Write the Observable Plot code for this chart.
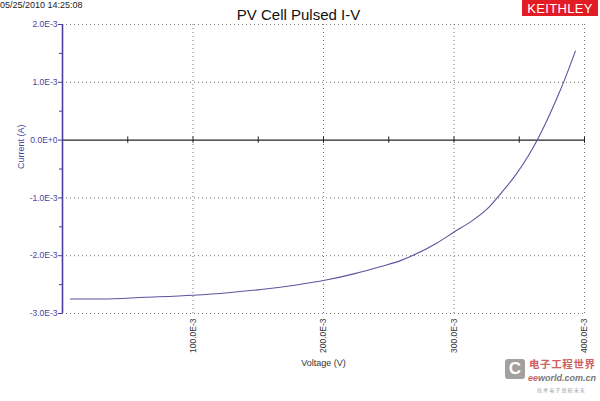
<!DOCTYPE html>
<html>
<head>
<meta charset="utf-8">
<script src="https://cdn.jsdelivr.net/npm/d3@7"></script>
<script src="https://cdn.jsdelivr.net/npm/@observablehq/plot@0.6"></script>
<style>
  html, body { margin: 0; padding: 0; background: #fff; }
  #wrap { position: relative; width: 600px; height: 401px; overflow: hidden; font-family: "Liberation Sans", Arial, sans-serif; }
  #stamp { position: absolute; left: 0; top: 0; font-size: 9px; color: #222; }
  #title { position: absolute; left: 0; width: 597px; top: 6px; text-align: center; font-size: 15px; color: #111; }
  #logo { position: absolute; left: 522px; top: 0; width: 76px; height: 16px; background: #e21c24; color: #fff; font-size: 13px; line-height: 17px; text-align: center; letter-spacing: 0.3px; }
  #wm { position: absolute; left: 505px; top: 357px; width: 95px; height: 42px; opacity: 0.8; white-space: nowrap; }
  #wm .c { position: absolute; left: 0; top: 2px; width: 20px; height: 20px; background: #8a8a8a; border-radius: 3px; color: #fff; font-size: 17px; font-weight: bold; line-height: 20px; text-align: center; }
  #wm .cn { position: absolute; left: 24px; top: 0; font-family: "Noto Sans CJK SC", sans-serif; font-size: 10.5px; color: #c23a3a; letter-spacing: 0.6px; line-height: 14px; font-weight: bold; }
  #wm .en { position: absolute; left: 23px; top: 16px; font-size: 9px; font-style: italic; color: #555; font-weight: bold; }
  #wm .en span { color: #c23a3a; }
  #wm .sm { position: absolute; left: 32px; top: 29px; font-family: "Noto Sans CJK SC", sans-serif; font-size: 5px; color: #888; }
</style>
</head>
<body>
<div id="wrap">
  <div id="chart"></div>
  <div id="stamp"></div>
  <div id="title"></div>
  <div id="logo"></div>
  <div id="wm"><div class="c">C</div><div class="cn">电子工程世界</div><div class="en"><span>ee</span>world.com.cn</div><div class="sm">技 术 电 子 感 知 未 来</div></div>
</div>
<script>
const stampText = "05/25/2010 14:25:08";
const titleText = "PV Cell Pulsed I-V";
const logoText = "KEITHLEY";
const xLabel = "Voltage (V)";
const yLabel = "Current (A)";

// Measured sweep (V, A)
const voltage = [0.006, 0.030, 0.063, 0.100, 0.127, 0.152, 0.178, 0.200, 0.224, 0.244, 0.259, 0.267, 0.287, 0.300, 0.313, 0.325, 0.336, 0.347, 0.357, 0.364, 0.371, 0.378, 0.385, 0.393];
const current = [-2.75e-3, -2.75e-3, -2.72e-3, -2.683e-3, -2.64e-3, -2.585e-3, -2.51e-3, -2.43e-3, -2.31e-3, -2.186e-3, -2.085e-3, -2.01e-3, -1.78e-3, -1.59e-3, -1.41e-3, -1.20e-3, -0.92e-3, -0.61e-3, -0.27e-3, 0.01e-3, 0.33e-3, 0.68e-3, 1.06e-3, 1.54e-3];

const yTicks = [-3e-3, -2e-3, -1e-3, 0, 1e-3, 2e-3];
const yTickLabels = ["-3.0E-3", "-2.0E-3", "-1.0E-3", "0.0E+0", "1.0E-3", "2.0E-3"];
const yMinorTicks = [-2.5e-3, -1.5e-3, -0.5e-3, 0.5e-3, 1.5e-3];
const yGrid = [-3e-3, -2e-3, -1e-3, 1e-3, 2e-3];
const xTicks = [0.1, 0.2, 0.3, 0.4];
const xTickLabels = ["100.0E-3", "200.0E-3", "300.0E-3", "400.0E-3"];
const xZeroTicks = [0.05, 0.1, 0.15, 0.2, 0.25, 0.3, 0.35, 0.4];

document.getElementById("stamp").textContent = stampText;
document.getElementById("title").textContent = titleText;
document.getElementById("logo").textContent = logoText;

const data = voltage.map((v, i) => ({v, i: current[i]}));
const axisColor = "#4a3f9f";
const curveColor = "#5a559e";
const zeroTickHalf = 0.055e-3;

const chart = Plot.plot({
  width: 600,
  height: 401,
  marginLeft: 62,
  marginRight: 16,
  marginTop: 24,
  marginBottom: 88,
  style: {fontFamily: "Liberation Sans, Arial, sans-serif", background: "transparent", overflow: "visible"},
  x: {domain: [0, 0.4]},
  y: {domain: [-3e-3, 2e-3]},
  marks: [
    Plot.gridX({ticks: xTicks, stroke: "#777", strokeOpacity: 1, strokeDasharray: "1,3"}),
    Plot.gridY({ticks: yGrid, stroke: "#777", strokeOpacity: 1, strokeDasharray: "1,3"}),
    Plot.ruleY([0], {x1: 0, x2: 0.4, stroke: "#222", strokeWidth: 1.2}),
    Plot.ruleX(xZeroTicks, {x: d => d, y1: -zeroTickHalf, y2: zeroTickHalf, stroke: "#222"}),
    Plot.ruleX([0], {stroke: axisColor, strokeWidth: 1.6}),
    Plot.axisY({ticks: yTicks, tickFormat: (d) => yTickLabels[yTicks.indexOf(d)], tickSize: 4, tickPadding: 1, fontSize: 8.5, fill: axisColor, stroke: axisColor, label: null}),
    Plot.axisY({ticks: yMinorTicks, tickFormat: () => "", tickSize: 3, stroke: axisColor, label: null}),
    Plot.axisX({ticks: xTicks, tickFormat: d => xTickLabels[xTicks.indexOf(d)], tickSize: 0, tickPadding: 5, tickRotate: -90, fontSize: 8.5, fill: "#333", label: null}),
    Plot.text([yLabel], {text: d => d, frameAnchor: "left", dx: -41, rotate: -90, fontSize: 9, fill: axisColor}),
    Plot.text([xLabel], {text: d => d, frameAnchor: "bottom", dy: 52, fontSize: 9, fill: "#333"}),
    Plot.line(data, {x: "v", y: "i", stroke: curveColor, strokeWidth: 1.1, curve: "monotone-x"})
  ]
});
document.getElementById("chart").appendChild(chart);
</script>
</body>
</html>
